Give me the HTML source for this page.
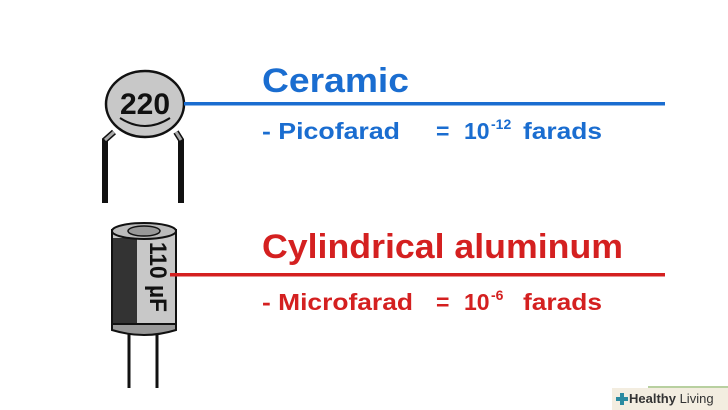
<!DOCTYPE html>
<html><head><meta charset="utf-8"><style>
html,body{margin:0;padding:0;background:#fff;}
svg{display:block}
text{font-family:"Liberation Sans",Arial,sans-serif;font-weight:bold}
</style></head><body>
<svg width="728" height="410" viewBox="0 0 728 410" xmlns="http://www.w3.org/2000/svg">
<path d="M114 132 L105 140 L105 203" fill="none" stroke="#111" stroke-width="6"/>
<path d="M114 132 L105 140" fill="none" stroke="#aaa" stroke-width="3"/>
<path d="M176 132 L181 140 L181 203" fill="none" stroke="#111" stroke-width="6"/>
<path d="M176 132 L181 140" fill="none" stroke="#aaa" stroke-width="3"/>
<ellipse cx="145" cy="104" rx="39" ry="33" fill="#c8c8c8" stroke="#111" stroke-width="2.5"/>
<path d="M120 118 Q145 134 170 118" fill="none" stroke="#111" stroke-width="2"/>
<text x="145" y="114" font-size="30" text-anchor="middle" fill="#111">220</text>
<rect x="184" y="102" width="481" height="3.5" fill="#1a6dd0"/>
<text x="262" y="92" font-size="34" fill="#1a6dd0" textLength="147" lengthAdjust="spacingAndGlyphs">Ceramic</text>
<text x="262" y="139" font-size="23" fill="#1a6dd0" textLength="138" lengthAdjust="spacingAndGlyphs">- Picofarad</text>
<text x="436" y="139" font-size="23" fill="#1a6dd0">=</text>
<text x="464" y="139" font-size="23" fill="#1a6dd0">10</text>
<text x="491" y="129" font-size="14" fill="#1a6dd0">-12</text>
<text x="523" y="139" font-size="23" fill="#1a6dd0" textLength="79" lengthAdjust="spacingAndGlyphs">farads</text>
<line x1="129" y1="330" x2="129" y2="388" stroke="#111" stroke-width="3"/>
<line x1="157" y1="330" x2="157" y2="388" stroke="#111" stroke-width="3"/>
<path d="M112 322 L112 330 Q144 340 176 330 L176 322 Z" fill="#999" stroke="#111" stroke-width="2"/>
<rect x="112" y="230" width="64" height="94" fill="#c8c8c8" stroke="#111" stroke-width="2"/>
<rect x="113" y="238" width="24" height="85" fill="#333"/>
<ellipse cx="144" cy="231" rx="32" ry="8" fill="#bbb" stroke="#111" stroke-width="2"/>
<ellipse cx="144" cy="231" rx="16" ry="5" fill="#999" stroke="#111" stroke-width="1.5"/>
<text transform="translate(150,242) rotate(90)" font-size="24" fill="#111" textLength="70" lengthAdjust="spacingAndGlyphs">110 µF</text>
<rect x="170" y="273" width="495" height="3.5" fill="#d42020"/>
<text x="262" y="258" font-size="34" fill="#d42020" textLength="361" lengthAdjust="spacingAndGlyphs">Cylindrical aluminum</text>
<text x="262" y="310" font-size="23" fill="#d42020" textLength="151" lengthAdjust="spacingAndGlyphs">- Microfarad</text>
<text x="436" y="310" font-size="23" fill="#d42020">=</text>
<text x="464" y="310" font-size="23" fill="#d42020">10</text>
<text x="491" y="300" font-size="14" fill="#d42020">-6</text>
<text x="523" y="310" font-size="23" fill="#d42020" textLength="79" lengthAdjust="spacingAndGlyphs">farads</text>
<rect x="612" y="388" width="116" height="22" fill="#f3ede0"/>
<rect x="648" y="386" width="80" height="2" fill="#b8d0a0"/>
<rect x="616" y="397" width="12" height="4" fill="#2a8aa0"/>
<rect x="620" y="393" width="4" height="12" fill="#2a8aa0"/>
<text x="629" y="403" font-size="13" fill="#333">Healthy <tspan font-weight="normal">Living</tspan></text>
</svg>
</body></html>
